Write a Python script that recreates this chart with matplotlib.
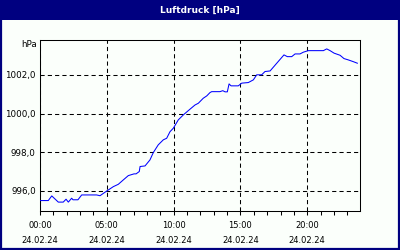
import matplotlib
matplotlib.use("Agg")
import matplotlib.pyplot as plt
from matplotlib.patches import Rectangle
from matplotlib.ticker import MultipleLocator, FixedLocator

# hours since 24.02.24 00:00 and pressure in hPa
hours = [0.00, 0.62, 0.88, 1.37, 1.74, 1.95, 2.12, 2.37, 2.47, 2.84, 3.12, 4.24,
         4.49, 5.01, 5.49, 5.86, 6.24, 6.61, 7.04, 7.19, 7.43, 7.49, 7.86, 8.23,
         8.48, 8.85, 9.23, 9.48, 9.73, 9.98, 10.35, 10.73, 11.10, 11.60, 11.85,
         12.22, 12.48, 12.72, 12.85, 13.47, 13.68, 13.85, 14.02, 14.15, 14.30,
         14.84, 15.10, 15.59, 15.97, 16.22, 16.59, 16.84, 17.22, 17.72, 18.26,
         18.51, 18.84, 19.09, 19.46, 19.71, 20.08, 21.21, 21.46, 21.71, 22.01,
         22.46, 22.75, 23.08, 23.45, 23.75]
pressure = [995.50, 995.50, 995.74, 995.42, 995.42, 995.57, 995.42, 995.62, 995.54,
            995.54, 995.79, 995.79, 995.75, 996.00, 996.22, 996.34, 996.57, 996.79,
            996.88, 996.88, 997.00, 997.26, 997.29, 997.60, 997.98, 998.38, 998.64,
            998.72, 999.06, 999.24, 999.67, 999.93, 1000.15, 1000.44, 1000.53,
            1000.79, 1000.91, 1001.08, 1001.13, 1001.13, 1001.18, 1001.12, 1001.12,
            1001.53, 1001.43, 1001.43, 1001.57, 1001.60, 1001.74, 1002.00, 1002.00,
            1002.17, 1002.20, 1002.60, 1003.03, 1002.94, 1002.94, 1003.08, 1003.08,
            1003.17, 1003.25, 1003.25, 1003.34, 1003.25, 1003.12, 1003.01, 1002.84,
            1002.77, 1002.68, 1002.60]

y_ticks = [996, 998, 1000, 1002]
x_ticks = [0, 5, 10, 15, 20]
x_labels = ["00:00\n24.02.24", "05:00\n24.02.24", "10:00\n24.02.24",
            "15:00\n24.02.24", "20:00\n24.02.24"]
title = "Luftdruck [hPa]"
unit = "hPa"

NAVY = "#000080"
BG = "#fbfffb"
W, H = 400, 250

fig = plt.figure(figsize=(4, 2.5), dpi=100, facecolor=BG)

# frame and title bar
fig.patches.append(Rectangle((0, 1 - 20 / H), 1, 20 / H, transform=fig.transFigure,
                             facecolor=NAVY, edgecolor="none", zorder=0))
fig.patches.append(Rectangle((1 / W, 1 / H), 1 - 2 / W, 1 - 2 / H, transform=fig.transFigure,
                             facecolor="none", edgecolor=NAVY, linewidth=1.6, zorder=5))
fig.text(0.5, 1 - 10 / H, title, color="white", fontsize=6.5, fontweight="bold",
         ha="center", va="center")

ax = fig.add_axes([40 / W, 1 - 211 / H, 320 / W, 171 / H])
ax.set_facecolor(BG)
ax.plot(hours, pressure, color="#0000ff", linewidth=0.75, zorder=3)

ax.set_xlim(0, 23.95)
ax.set_ylim(994.96, 1003.8)

ax.xaxis.set_major_locator(FixedLocator(x_ticks))
ax.xaxis.set_minor_locator(MultipleLocator(1))
ax.set_xticks(x_ticks, x_labels)
ax.set_yticks(y_ticks, [f"{v:.1f}".replace(".", ",") for v in y_ticks])

ax.grid(True, which="major", color="black", linestyle=(0, (4, 3)), linewidth=0.75)
ax.tick_params(axis="x", which="both", direction="out", length=3, width=0.75,
               labelsize=6, pad=4, colors="black")
ax.tick_params(axis="y", which="both", length=0, labelsize=6.3, pad=3)
for lbl in ax.get_xticklabels():
    lbl.set_linespacing(1.9)
for sp in ax.spines.values():
    sp.set_linewidth(0.75)
    sp.set_color("black")

fig.text(37 / W, 1 - 45 / H, unit, fontsize=6.3, ha="right", va="center")

fig.savefig("out.png", dpi=100, facecolor=BG)
